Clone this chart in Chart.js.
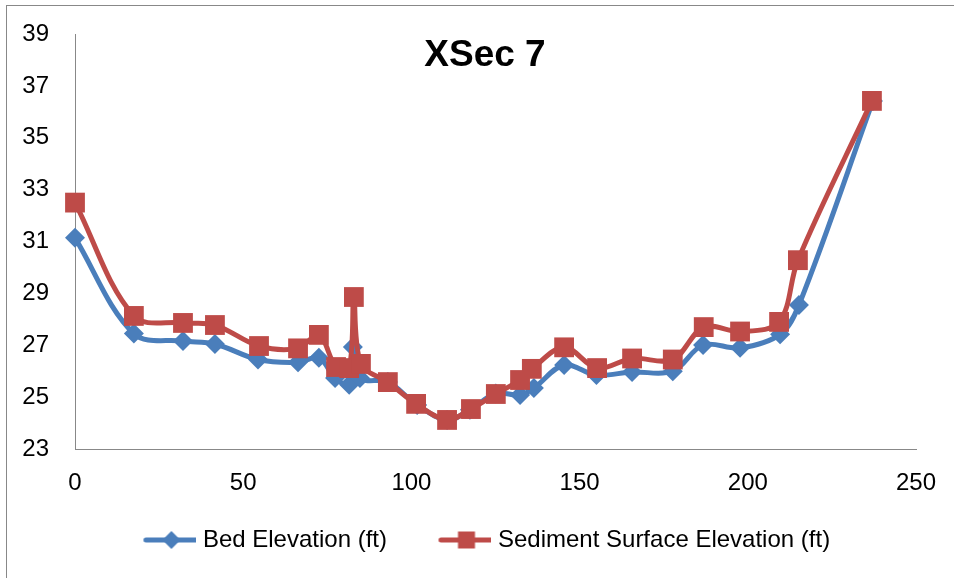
<!DOCTYPE html>
<html>
<head>
<meta charset="utf-8">
<script src="https://cdn.jsdelivr.net/npm/chart.js@4"></script>
<style>
  html, body { margin: 0; padding: 0; background: #fff; }
  #wrap { width: 954px; height: 578px; position: relative; }
</style>
</head>
<body>
<div id="wrap"><canvas id="myChart" width="954" height="578"></canvas></div>
<script>
// station (ft) and elevation (ft)
const bedX = [0, 17.5, 32.1, 41.6, 54.4, 66.3, 72.5, 77.3, 81.5, 82.6, 84.7, 93.0, 101.7, 110.6, 117.4, 125.1, 132.3, 136.4, 145.4, 155.0, 165.6, 177.7, 186.7, 197.7, 209.6, 215.2, 237.2];
const bedY = [31.14, 27.45, 27.16, 27.05, 26.45, 26.34, 26.52, 25.74, 25.48, 26.93, 25.74, 25.58, 24.70, 24.12, 24.51, 25.14, 25.08, 25.35, 26.24, 25.85, 25.97, 26.0, 27.01, 26.9, 27.42, 28.55, 36.42];

const sedX = [0, 17.5, 32.1, 41.6, 54.7, 66.3, 72.5, 77.6, 81.5, 82.9, 85.0, 93.0, 101.4, 110.6, 117.7, 125.1, 132.3, 135.8, 145.4, 155.2, 165.6, 177.7, 186.9, 197.7, 209.3, 214.9, 236.9];
const sedY = [32.5, 28.13, 27.86, 27.78, 26.97, 26.88, 27.40, 26.16, 26.12, 28.86, 26.28, 25.58, 24.74, 24.12, 24.54, 25.12, 25.66, 26.09, 26.92, 26.12, 26.49, 26.45, 27.7, 27.53, 27.9, 30.28, 36.42];

const seriesNames = ["Bed Elevation (ft)", "Sediment Surface Elevation (ft)"];
const chartTitle = "XSec 7";

const BLUE = "#4A7EBB";
const RED = "#BE4B48";
const FONT = "'Liberation Sans', Arial, sans-serif";

function toPoints(xs, ys) {
  return xs.map((x, i) => ({ x: x, y: ys[i] }));
}

// legend swatch: a short line with the marker in the middle
function legendIcon(color, style, lead) {
  const c = document.createElement("canvas");
  c.width = 100;
  c.height = 24;
  const g = c.getContext("2d");
  g.strokeStyle = color;
  g.fillStyle = color;
  g.lineWidth = 5;
  g.lineCap = "round";
  g.beginPath();
  g.moveTo(lead + 2, 12);
  g.lineTo(lead + 53, 12);
  g.stroke();
  const cx = lead + 27.5;
  g.beginPath();
  if (style === "diamond") {
    g.moveTo(cx - 9, 12);
    g.lineTo(cx, 3);
    g.lineTo(cx + 9, 12);
    g.lineTo(cx, 21);
  } else {
    g.rect(cx - 8.5, 3.5, 17, 17);
  }
  g.closePath();
  g.fill();
  return c;
}

const icons = [legendIcon(BLUE, "diamond", 47.5), legendIcon(RED, "square", 47.5)];

const frame = {
  id: "frame",
  beforeDraw(chart) {
    const ctx = chart.ctx;
    ctx.save();
    ctx.fillStyle = "#fff";
    ctx.fillRect(0, 0, chart.width, chart.height);
    ctx.strokeStyle = "#888";
    ctx.lineWidth = 1;
    ctx.strokeRect(6.5, 5.5, 2000, 2000);
    ctx.restore();
  },
  afterDraw(chart) {
    const ctx = chart.ctx;
    ctx.save();
    ctx.fillStyle = "#000";
    ctx.font = "bold 37px " + FONT;
    ctx.textAlign = "center";
    ctx.textBaseline = "alphabetic";
    ctx.fillText(chartTitle, 485, 66);
    ctx.restore();
  }
};

const data = {
  datasets: [
    {
      label: seriesNames[0],
      data: toPoints(bedX, bedY),
      borderColor: BLUE,
      backgroundColor: BLUE,
      borderWidth: 5,
      pointStyle: "rectRot",
      pointRadius: 10,
      pointBorderWidth: 0,
      tension: 0.35,
      clip: false,
      order: 1,
    },
    {
      label: seriesNames[1],
      data: toPoints(sedX, sedY),
      borderColor: RED,
      backgroundColor: RED,
      borderWidth: 5,
      pointStyle: "rect",
      pointRadius: 14,
      pointBorderWidth: 0,
      tension: 0.35,
      clip: false,
      order: 0,
    },
  ],
};

const config = {
  type: "line",
  data: data,
  plugins: [frame],
  options: {
    responsive: false,
    animation: false,
    layout: {
      autoPadding: false,
      padding: { top: 34, right: 38, bottom: 16, left: 16 },
    },
    scales: {
      x: {
        type: "linear",
        min: 0,
        max: 250,
        grid: { display: false, drawTicks: false },
        border: { color: "#888", width: 1 },
        ticks: {
          stepSize: 50,
          padding: 20,
          color: "#000",
          font: { family: FONT, size: 24 },
        },
        afterFit(scale) {
          scale.height = 69;
          scale.paddingLeft = 0;
          scale.paddingRight = 0;
        },
      },
      y: {
        min: 23,
        max: 39,
        grid: { display: false, drawTicks: false },
        border: { color: "#888", width: 1 },
        ticks: {
          stepSize: 2,
          padding: 26,
          color: "#000",
          font: { family: FONT, size: 24 },
        },
        afterFit(scale) {
          scale.width = 59;
          scale.paddingTop = 0;
          scale.paddingBottom = 0;
        },
      },
    },
    plugins: {
      tooltip: { enabled: false },
      legend: {
        position: "bottom",
        labels: {
          usePointStyle: true,
          pointStyleWidth: 89,
          padding: 10,
          color: "#000",
          font: { family: FONT, size: 24 },
          generateLabels(chart) {
            return chart.data.datasets.map((ds, i) => ({
              text: ds.label,
              pointStyle: icons[i],
              fillStyle: ds.borderColor,
              strokeStyle: ds.borderColor,
              lineWidth: 0,
              fontColor: "#000",
              hidden: false,
              datasetIndex: i,
            }));
          },
        },
      },
    },
  },
};

const myChart = new Chart(document.getElementById("myChart"), config);
</script>
</body>
</html>
